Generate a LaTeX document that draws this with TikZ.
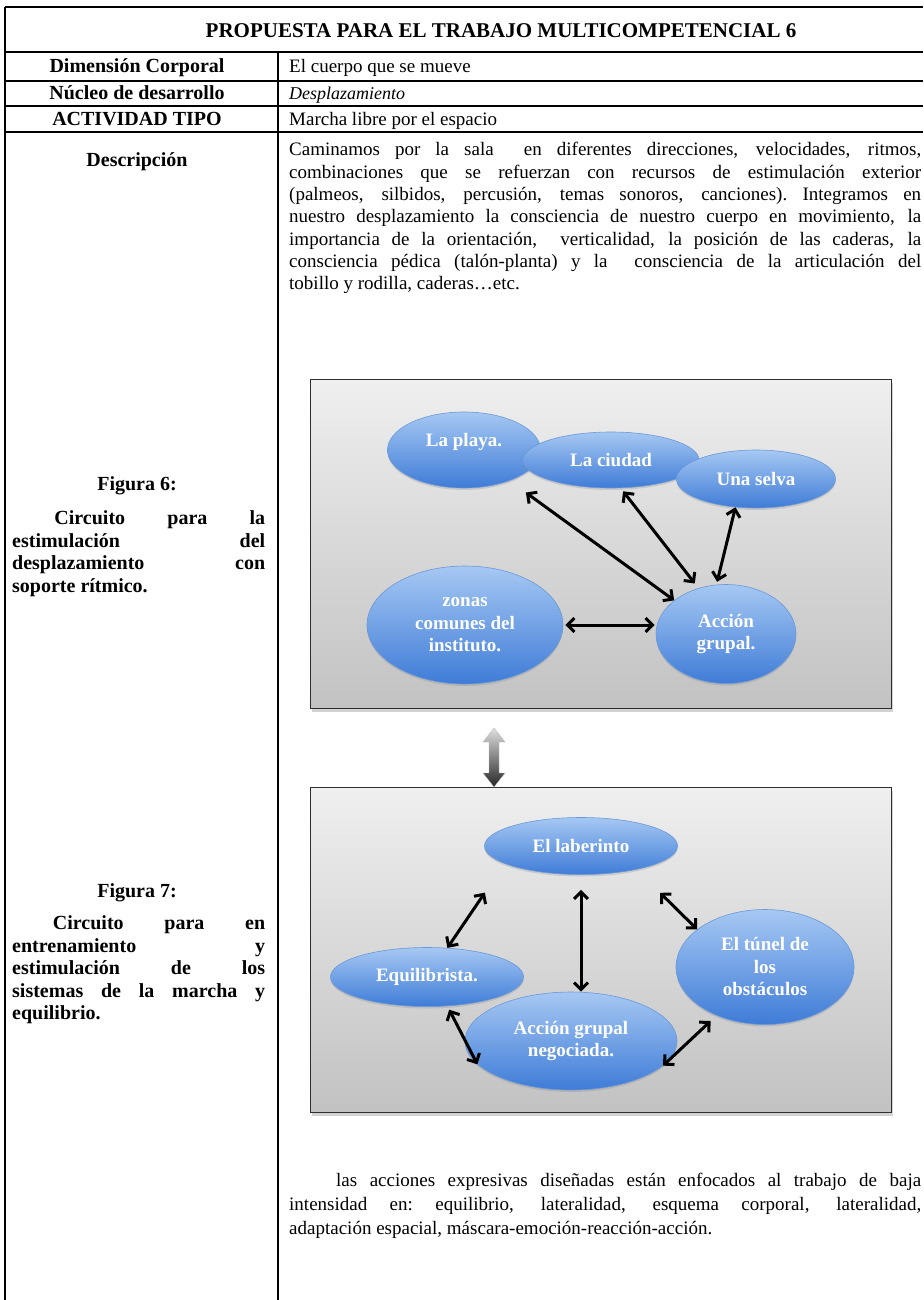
\documentclass[tikz,border=0pt]{standalone}
\usepackage{fontspec}
\setmainfont{Liberation Serif}
\usetikzlibrary{arrows.meta,shadows,shapes.geometric}

\definecolor{boxtop}{HTML}{EFEFEF}
\definecolor{boxbot}{HTML}{C2C2C2}
\definecolor{boxline}{HTML}{2E2E2E}
\definecolor{bubtop}{HTML}{A6C8F3}
\definecolor{bubbot}{HTML}{3F7CD7}
\definecolor{bubline}{HTML}{6A98D8}

% loose justification for hand-broken lines
\newcommand\loosejust{\spaceskip=.25em plus 1.2em minus .05em\xspaceskip=\spaceskip\tolerance=10000\hyphenpenalty=10000\relax}

\tikzset{
  grid line/.style={line width=1.6pt, black},
  headcell/.style={font=\fontsize{20}{24}\selectfont\bfseries, inner sep=0, anchor=base},
  valcell/.style={font=\fontsize{19}{22}\selectfont, inner sep=0, anchor=base west},
  body/.style={font=\fontsize{19}{22.3}\selectfont\loosejust, inner sep=0, anchor=north west, text width=632pt, align=justify},
  caption/.style={font=\fontsize{20}{22.4}\selectfont\bfseries\loosejust, inner sep=0, anchor=north west, text width=253pt, align=justify},
  figbox/.style={rectangle, draw=boxline, line width=1pt, top color=boxtop, bottom color=boxbot, inner sep=0, anchor=north west,
    drop shadow={shadow xshift=1.5pt, shadow yshift=-3pt, opacity=.35}},
  bubble/.style={ellipse, draw=bubline, line width=.6pt, top color=bubtop, bottom color=bubbot, text=white,
    font=\fontsize{19}{22.5}\selectfont\bfseries, align=center, inner sep=0,
    drop shadow={shadow xshift=0pt, shadow yshift=-2pt, opacity=.25}},
  link/.style={line width=3pt, {Straight Barb[length=7pt,width=14pt]}-{Straight Barb[length=7pt,width=14pt]}},
}

\begin{document}
\begin{tikzpicture}[x=1pt,y=-1pt]
\useasboundingbox (0,0) rectangle (923,1300);

% table rules
\draw[grid line] (5,7) -- (923,7);
\draw[grid line] (5,52) -- (923,52);
\draw[grid line] (5,81) -- (923,81);
\draw[grid line] (5,106) -- (923,106);
\draw[grid line] (5,132) -- (923,132);
\draw[grid line] (5,7) -- (5,1300);
\draw[grid line] (278,52) -- (278,1300);

% header rows
\node[headcell, font=\fontsize{21}{24}\selectfont\bfseries] (title) at (501,38) {PROPUESTA PARA EL TRABAJO MULTICOMPETENCIAL 6};
\node[headcell] (dimL) at (137,73) {Dimensión Corporal};
\node[valcell] (dimR) at (289,73) {El cuerpo que se mueve};
\node[headcell] (nucL) at (137,100) {Núcleo de desarrollo};
\node[valcell, font=\fontsize{18}{22}\selectfont\itshape] (nucR) at (289,100) {Desplazamiento};
\node[headcell] (actL) at (137,126) {ACTIVIDAD TIPO};
\node[valcell] (actR) at (289,126) {Marcha libre por el espacio};
\node[headcell] (descL) at (137,167) {Descripción};

\node[body] (descR) at (289,140) {\strut Caminamos por la sala\ \ en diferentes direcciones, velocidades, ritmos,\linebreak
combinaciones que se refuerzan con recursos de estimulación exterior\linebreak
(palmeos, silbidos, percusión, temas sonoros, canciones). Integramos en\linebreak
nuestro desplazamiento la consciencia de nuestro cuerpo en movimiento, la\linebreak
importancia de la orientación,\ \ verticalidad, la posición de las caderas, la\linebreak
consciencia pédica (talón-planta) y la\ \ consciencia de la articulación del\linebreak
tobillo y rodilla, caderas…etc.};

% figure captions
\node[headcell] (fig6cap) at (137,490) {Figura 6:};
\node[caption] (fig6txt) at (12,509) {\strut\ Circuito para la\linebreak
estimulación del\linebreak desplazamiento con\linebreak soporte rítmico.};
\node[headcell] (fig7cap) at (137,897) {Figura 7:};
\node[caption] (fig7txt) at (12,914) {\strut\ Circuito para en\linebreak
entrenamiento y\linebreak estimulación de los\linebreak sistemas de la marcha y\linebreak equilibrio.};

% figure 6
\node[figbox, minimum width=581pt, minimum height=329pt] (fig6) at (310,379) {};
\node[bubble, minimum width=153pt, minimum height=76pt, text depth=20pt] (playa) at (464,450) {La playa.};
\node[bubble, minimum width=176pt, minimum height=56pt] (ciudad) at (611,460) {La ciudad};
\node[bubble, minimum width=159pt, minimum height=58pt] (selva) at (756,479) {Una selva};
\node[bubble, minimum width=196pt, minimum height=118pt] (zonas) at (465,625) {zonas\\comunes del\\instituto.};
\node[bubble, minimum width=140pt, minimum height=99pt] (acc6) at (726,634) {Acción\\grupal.};

\draw[link, shorten <=20pt] (playa.-34) -- (acc6.147);
\draw[link, shorten <=4pt, shorten >=6pt] (ciudad.-71) -- (acc6.121);
\draw[link, shorten >=3pt] (selva.-126) -- (acc6.101);
\draw[link, shorten <=2pt, shorten >=1pt] (zonas.east) -- (zonas.east -| acc6.west);

% figure 7
\node[figbox, minimum width=581pt, minimum height=325pt] (fig7) at (310,787) {};

% grey double arrow between the two figures
\shade[top color=gray!25, bottom color=black!85, draw=gray!55, line width=.4pt]
  (494,728) -- (505,742) -- (499,742) -- (499,773) -- (505,773) -- (494,787)
  -- (483,773) -- (489,773) -- (489,742) -- (483,742) -- cycle;

\node[bubble, minimum width=193pt, minimum height=57pt] (lab) at (581,846) {El laberinto};
\node[bubble, minimum width=193pt, minimum height=59pt] (equi) at (427,977) {Equilibrista.};
\node[bubble, minimum width=178pt, minimum height=115pt] (tun) at (765,967) {El túnel de\\los\\obstáculos};
\node[bubble, minimum width=212pt, minimum height=98pt] (accn) at (571,1041) {Acción grupal\\negociada.};

\draw[link, shorten <=35pt] (lab.193) -- (equi.55);
\draw[link, shorten <=15pt] (lab.south) -- (lab.south |- accn.north);
\draw[link, shorten <=33pt] (lab.-23) -- (tun.151);
\draw[link, shorten <=4pt] (equi.-55) -- (accn.194);
\draw[link, shorten >=8pt] (accn.-15) -- (tun.225);

% closing paragraph
\node[body, font=\fontsize{19}{24}\selectfont\loosejust] (closing) at (289,1169) {\hspace*{47pt}\strut las acciones expresivas diseñadas están enfocados al trabajo de baja\linebreak
intensidad en: equilibrio, lateralidad, esquema corporal, lateralidad,\linebreak
adaptación espacial, máscara-emoción-reacción-acción.};
\end{tikzpicture}
\end{document}
